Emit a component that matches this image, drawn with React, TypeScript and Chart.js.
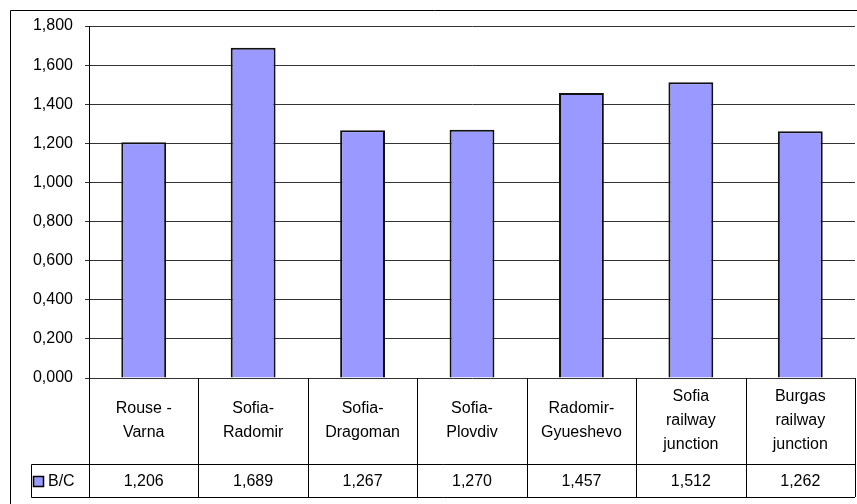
import React, { useEffect, useRef } from "react";
import { Chart, registerables } from "chart.js";

Chart.register(...registerables);

// Benefit / cost ratio per project
const categories: string[][] = [
  ["Rouse -", "Varna"],
  ["Sofia-", "Radomir"],
  ["Sofia-", "Dragoman"],
  ["Sofia-", "Plovdiv"],
  ["Radomir-", "Gyueshevo"],
  ["Sofia", "railway", "junction"],
  ["Burgas", "railway", "junction"],
];
const seriesName = "B/C";
const bcValues = [1.206, 1.689, 1.267, 1.27, 1.457, 1.512, 1.262];

const yMin = 0;
const yMax = 1.8;
const yStep = 0.2;

const BAR_FILL = "#9999FF";
const FAMILY = "'Liberation Sans', Arial, sans-serif";
const FONT = `16px ${FAMILY}`;

const fmt = (v: number) => v.toFixed(3).replace(".", ",");

const tablePlugin = {
  id: "dataTable",
  afterDraw(chart: any) {
    const { ctx, chartArea } = chart;
    const n = categories.length;
    const left = chartArea.left;
    const right = chartArea.right;
    const top = chartArea.bottom;
    const w = (right - left) / n;
    const headerBottom = top + 86;
    const rowBottom = headerBottom + 33;
    const keyLeft = 31;

    ctx.save();
    ctx.strokeStyle = "#000";
    ctx.lineWidth = 1;

    // outer frame (top and left edges visible)
    ctx.beginPath();
    ctx.moveTo(10.5, 10.5);
    ctx.lineTo(chart.width + 5, 10.5);
    ctx.moveTo(10.5, 10.5);
    ctx.lineTo(10.5, chart.height + 5);
    ctx.stroke();

    // table grid
    ctx.beginPath();
    for (let i = 0; i <= n; i++) {
      const x = Math.round(left + i * w) + 0.5;
      ctx.moveTo(x, top);
      ctx.lineTo(x, rowBottom);
    }
    ctx.moveTo(keyLeft + 0.5, Math.round(headerBottom) + 0.5);
    ctx.lineTo(right, Math.round(headerBottom) + 0.5);
    ctx.moveTo(keyLeft + 0.5, Math.round(rowBottom) + 0.5);
    ctx.lineTo(right, Math.round(rowBottom) + 0.5);
    ctx.moveTo(keyLeft + 0.5, Math.round(headerBottom) + 0.5);
    ctx.lineTo(keyLeft + 0.5, Math.round(rowBottom) + 0.5);
    ctx.stroke();

    // category labels
    ctx.fillStyle = "#000";
    ctx.font = FONT;
    ctx.textAlign = "center";
    ctx.textBaseline = "middle";
    const lineH = 24;
    const midHeader = (top + headerBottom) / 2;
    categories.forEach((lines, i) => {
      const cx = left + (i + 0.5) * w;
      const y0 = midHeader - ((lines.length - 1) * lineH) / 2;
      lines.forEach((t, j) => ctx.fillText(t, cx, y0 + j * lineH));
    });

    // data row
    const midRow = (headerBottom + rowBottom) / 2 + 1;
    bcValues.forEach((v, i) => {
      ctx.fillText(fmt(v), left + (i + 0.5) * w, midRow);
    });

    // legend key
    ctx.fillStyle = BAR_FILL;
    ctx.fillRect(34, Math.round(midRow) - 5, 9, 9);
    ctx.lineWidth = 1.5;
    ctx.strokeRect(33.5, Math.round(midRow) - 5.5, 10, 10);
    ctx.fillStyle = "#000";
    ctx.textAlign = "left";
    ctx.fillText(seriesName, 48, midRow);
    ctx.restore();
  },
};

export default function App() {
  const ref = useRef<HTMLCanvasElement>(null);

  useEffect(() => {
    if (!ref.current) return;
    const chart = new Chart(ref.current, {
      type: "bar",
      data: {
        labels: categories.map((c) => c.join(" ")),
        datasets: [
          {
            label: seriesName,
            data: bcValues,
            backgroundColor: BAR_FILL,
            borderColor: "#111",
            borderWidth: 2,
            categoryPercentage: 1,
            barPercentage: 0.41,
          },
        ],
      },
      options: {
        responsive: false,
        animation: false,
        layout: { padding: { left: 0, top: 26, right: 2, bottom: 126 } },
        plugins: { legend: { display: false }, tooltip: { enabled: false } },
        scales: {
          x: { display: false, offset: true },
          y: {
            min: yMin,
            max: yMax,
            afterFit: (s: any) => {
              s.width = 89;
            },
            ticks: {
              stepSize: yStep,
              padding: 12,
              color: "#000",
              font: { family: FAMILY, size: 16 },
              callback: (v: any) => fmt(Number(v)),
            },
            grid: { color: "#333", lineWidth: 1, tickLength: 4 },
            border: { color: "#000", width: 1 },
          },
        },
      },
      plugins: [tablePlugin],
    });
    return () => chart.destroy();
  }, []);

  return (
    <div style={{ position: "absolute", left: 0, top: 0, width: 857, height: 504 }}>
      <canvas ref={ref} width={857} height={504} style={{ display: "block" }} />
    </div>
  );
}
